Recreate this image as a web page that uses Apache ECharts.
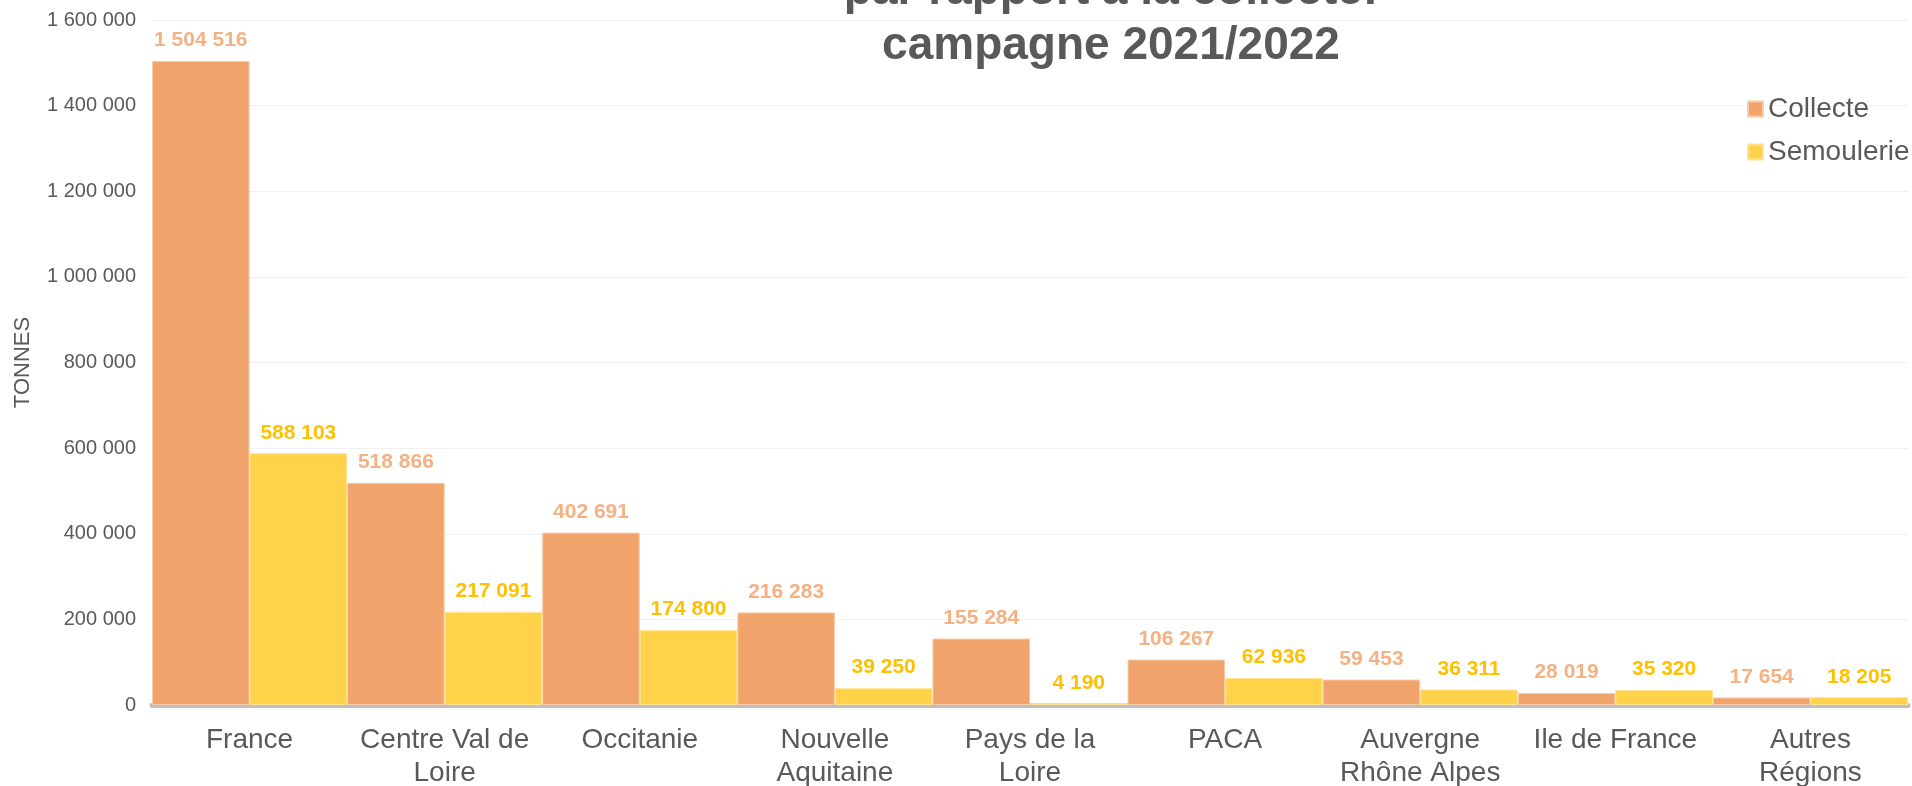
<html>
<head>
    <script src="https://cdn.jsdelivr.net/npm/echarts@6.0.0/dist/echarts.min.js"></script>
    <style>
        body { margin: 0 }
        #chart { width: 1912px; height: 786px; }
    </style>
</head>
<body>
    <div id="chart"></div>
    <script>
        const regions = ['France', 'Centre Val de\nLoire', 'Occitanie', 'Nouvelle\nAquitaine', 'Pays de la\nLoire',
            'PACA', 'Auvergne\nRhône Alpes', 'Ile de France', 'Autres\nRégions'];
        const collecte = [1504516, 518866, 402691, 216283, 155284, 106267, 59453, 28019, 17654];
        const semoulerie = [588103, 217091, 174800, 39250, 4190, 62936, 36311, 35320, 18205];

        const fmt = v => String(v).replace(/\B(?=(\d{3})+(?!\d))/g, ' ');
        const font = '"Liberation Sans", Arial, sans-serif';

        const myChart = echarts.init(document.getElementById('chart'));

        const option = {
            animation: false,
            textStyle: { fontFamily: font },
            title: {
                text: 'par rapport à la collecte:\ncampagne 2021/2022',
                left: 1106,
                top: -41,
                textAlign: 'center',
                textStyle: { fontSize: 46, fontWeight: 'bold', color: '#595959', lineHeight: 55, fontFamily: font }
            },
            legend: {
                orient: 'vertical',
                left: 1742,
                top: 90,
                itemWidth: 15,
                itemHeight: 15,
                itemGap: 15,
                icon: 'rect',
                textStyle: { fontSize: 28, color: '#595959', fontFamily: font },
                data: ['Collecte', 'Semoulerie']
            },
            grid: { left: 152, right: 4, top: 20, bottom: 81, outerBoundsMode: 'none', containLabel: false },
            xAxis: {
                type: 'category',
                data: regions,
                axisLine: { lineStyle: { color: '#BFBFBF', width: 5 } },
                axisTick: { show: false },
                axisLabel: { fontSize: 28, color: '#595959', lineHeight: 33, margin: 19, interval: 0 }
            },
            yAxis: {
                type: 'value',
                min: 0,
                max: 1600000,
                interval: 200000,
                name: 'TONNES',
                nameLocation: 'middle',
                nameGap: 118,
                nameTextStyle: { fontSize: 22, color: '#595959' },
                axisLabel: { fontSize: 20, color: '#595959', margin: 16, formatter: fmt },
                splitLine: { lineStyle: { color: '#F0F0F0', width: 1 } }
            },
            series: [
                {
                    name: 'Collecte',
                    type: 'bar',
                    data: collecte,
                    barGap: '0%',
                    barCategoryGap: '0%',
                    itemStyle: { color: '#F0A46C', borderColor: '#F6CBA8', borderWidth: 1 },
                    label: {
                        show: true, position: 'top', distance: 10,
                        fontSize: 21, fontWeight: 'bold', color: '#F4B183',
                        formatter: p => fmt(p.value)
                    }
                },
                {
                    name: 'Semoulerie',
                    type: 'bar',
                    data: semoulerie,
                    itemStyle: { color: '#FFD24A', borderColor: '#FFE38F', borderWidth: 1 },
                    label: {
                        show: true, position: 'top', distance: 10,
                        fontSize: 21, fontWeight: 'bold', color: '#FFC000',
                        formatter: p => fmt(p.value)
                    }
                }
            ]
        };

        myChart.setOption(option);
    </script>
</body>
</html>
